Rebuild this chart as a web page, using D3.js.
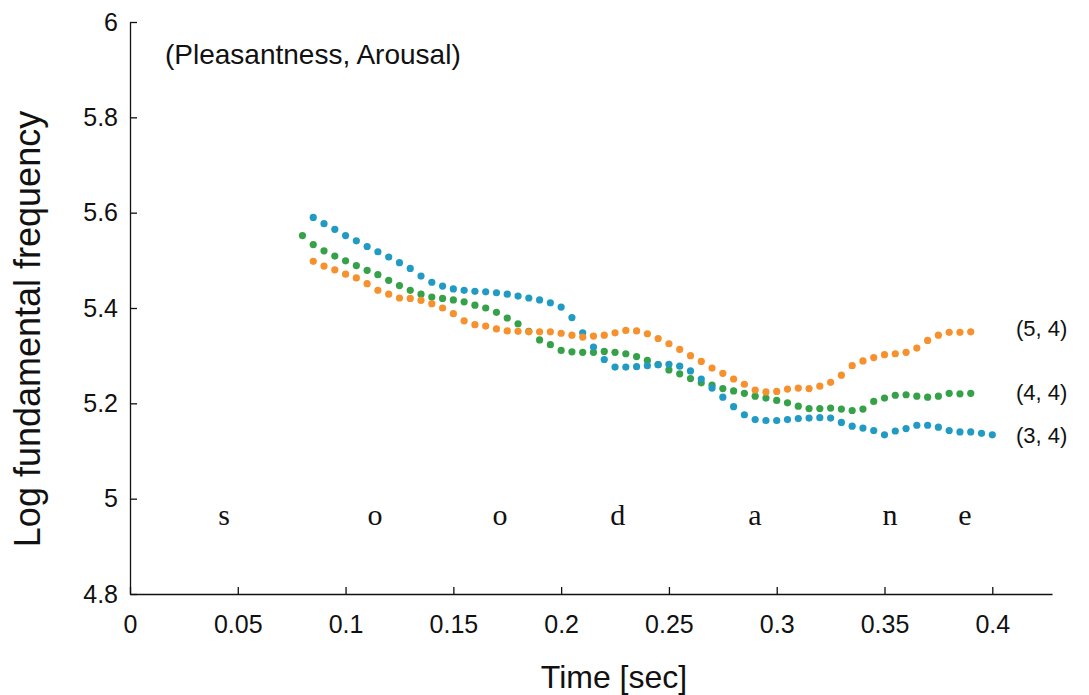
<!DOCTYPE html>
<html>
<head>
<meta charset="utf-8">
<script src="https://cdn.jsdelivr.net/npm/d3@7"></script>
<style>
  body { margin:0; background:#fff; }
  .general-font { font-family:"Liberation Sans", Arial, sans-serif; fill:#111; }
  .phoneme { font-family:"Liberation Serif", "Times New Roman", serif; fill:#111; }
</style>
</head>
<body>
<svg id="viz-svg" width="1089" height="695"></svg>
<script>
// frame step of the F0 track (sec)
var frameStep = 0.005;

// (3, 4) blue, starts at 0.085 s
var startBlue = 0.085
  , valuesBlue = [5.590,5.577,5.565,5.552,5.541,5.529,5.518,5.507,5.495,5.483,
      5.467,5.454,5.446,5.440,5.437,5.435,5.434,5.432,5.429,5.425,
      5.421,5.417,5.411,5.402,5.380,5.348,5.318,5.292,5.276,5.276,
      5.277,5.279,5.281,5.282,5.278,5.268,5.251,5.232,5.213,5.193,
      5.176,5.166,5.164,5.164,5.166,5.168,5.169,5.170,5.169,5.160,
      5.152,5.148,5.143,5.134,5.142,5.147,5.154,5.154,5.150,5.143,
      5.140,5.140,5.137,5.134];

// (4, 4) green, starts at 0.080 s
var startGreen = 0.080
  , valuesGreen = [5.552,5.533,5.520,5.509,5.499,5.489,5.479,5.470,5.458,5.447,
      5.437,5.429,5.423,5.420,5.417,5.413,5.406,5.400,5.391,5.379,
      5.367,5.351,5.333,5.323,5.311,5.308,5.307,5.307,5.309,5.307,
      5.304,5.298,5.290,5.281,5.270,5.262,5.252,5.243,5.238,5.231,
      5.226,5.221,5.215,5.211,5.206,5.201,5.194,5.189,5.189,5.190,
      5.188,5.185,5.188,5.204,5.211,5.217,5.218,5.215,5.213,5.215,
      5.221,5.220,5.221];

// (5, 4) orange, starts at 0.085 s
var startOrange = 0.085
  , valuesOrange = [5.498,5.488,5.480,5.471,5.463,5.451,5.437,5.429,5.421,5.420,
      5.416,5.409,5.400,5.388,5.373,5.365,5.362,5.356,5.352,5.351,
      5.350,5.350,5.350,5.347,5.343,5.339,5.341,5.343,5.348,5.353,
      5.352,5.346,5.336,5.325,5.313,5.300,5.288,5.274,5.263,5.251,
      5.240,5.228,5.224,5.225,5.230,5.232,5.231,5.236,5.244,5.259,
      5.279,5.289,5.296,5.302,5.304,5.307,5.316,5.332,5.343,5.349,
      5.349,5.350];

var seriesNames = ["(4, 4)", "(3, 4)", "(5, 4)"]
  , seriesColors = ["#35a249", "#229bc4", "#f6912d"];

var xTicks = [0, 0.05, 0.1, 0.15, 0.2, 0.25, 0.3, 0.35, 0.4]
  , yTicks = [4.8, 5, 5.2, 5.4, 5.6, 5.8, 6];

var phonemes = ["s", "o", "o", "d", "a", "n", "e"]
  , phonemeTimes = [0.0436, 0.1136, 0.1716, 0.2263, 0.2899, 0.3525, 0.3873];

var svg = d3.select("#viz-svg")
  , margin = {left:130, right:37, top:22, bottom:101}
  , width = 1089
  , height = 695
  , dotRadius = 3.6;

var x = d3.scaleLinear().domain([0, 0.4277]).range([margin.left, width-margin.right])
  , y = d3.scaleLinear().domain([4.8, 6]).range([height-margin.bottom, margin.top]);

function toPoints(start, vals){
  return vals.map(function(v,i){ return {t: start + i*frameStep, v: v}; });
}
var series = [
    {name: seriesNames[0], color: seriesColors[0], pts: toPoints(startGreen, valuesGreen)}
  , {name: seriesNames[1], color: seriesColors[1], pts: toPoints(startBlue, valuesBlue)}
  , {name: seriesNames[2], color: seriesColors[2], pts: toPoints(startOrange, valuesOrange)}
];

// axes, ticks point inward
var xAxis = d3.axisBottom(x).tickValues(xTicks).tickSizeInner(-7).tickSizeOuter(0)
      .tickPadding(15).tickFormat(function(d){ return d3.format("~g")(d); })
  , yAxis = d3.axisLeft(y).tickValues(yTicks).tickSizeInner(-7).tickSizeOuter(0)
      .tickPadding(12).tickFormat(function(d){ return d3.format("~g")(d); });

var gx = svg.append("g")
  .attr("transform","translate(0,"+(height-margin.bottom)+")")
  .call(xAxis);
var gy = svg.append("g")
  .attr("transform","translate("+margin.left+",0)")
  .call(yAxis);

[gx, gy].forEach(function(g){
  g.selectAll("path, line").attr("stroke","#111").attr("stroke-width",1.3);
  g.selectAll("text")
    .attr("class","general-font")
    .style("font-size","25px")
    .attr("fill","#111");
});
gx.selectAll(".tick text").attr("dy","0.95em");

// axis titles
svg.append("text")
  .attr("class","general-font")
  .attr("x", 614)
  .attr("y", 688)
  .attr("text-anchor","middle")
  .style("font-size","32px")
  .text("Time [sec]");

svg.append("text")
  .attr("class","general-font")
  .attr("transform","translate(40,329) rotate(-90)")
  .attr("text-anchor","middle")
  .style("font-size","36px")
  .text("Log fundamental frequency");

svg.append("text")
  .attr("class","general-font")
  .attr("x", 165)
  .attr("y", 64)
  .style("font-size","28px")
  .text("(Pleasantness, Arousal)");

// dots
series.forEach(function(s){
  svg.append("g")
    .selectAll("circle")
    .data(s.pts)
    .enter().append("circle")
    .attr("cx", function(d){ return x(d.t); })
    .attr("cy", function(d){ return y(d.v); })
    .attr("r", dotRadius)
    .attr("fill", s.color);
});

// end labels
var labelY = {"(5, 4)": 5.357, "(4, 4)": 5.224, "(3, 4)": 5.133};
series.forEach(function(s){
  svg.append("text")
    .attr("class","general-font")
    .attr("x", 1016)
    .attr("y", y(labelY[s.name]))
    .attr("dy","0.35em")
    .style("font-size","22px")
    .text(s.name);
});

// phoneme letters
svg.append("g")
  .selectAll("text")
  .data(phonemes)
  .enter().append("text")
  .attr("class","phoneme")
  .attr("x", function(d,i){ return x(phonemeTimes[i]); })
  .attr("y", y(4.944))
  .attr("text-anchor","middle")
  .style("font-size","30px")
  .text(function(d){ return d; });
</script>
</body>
</html>
